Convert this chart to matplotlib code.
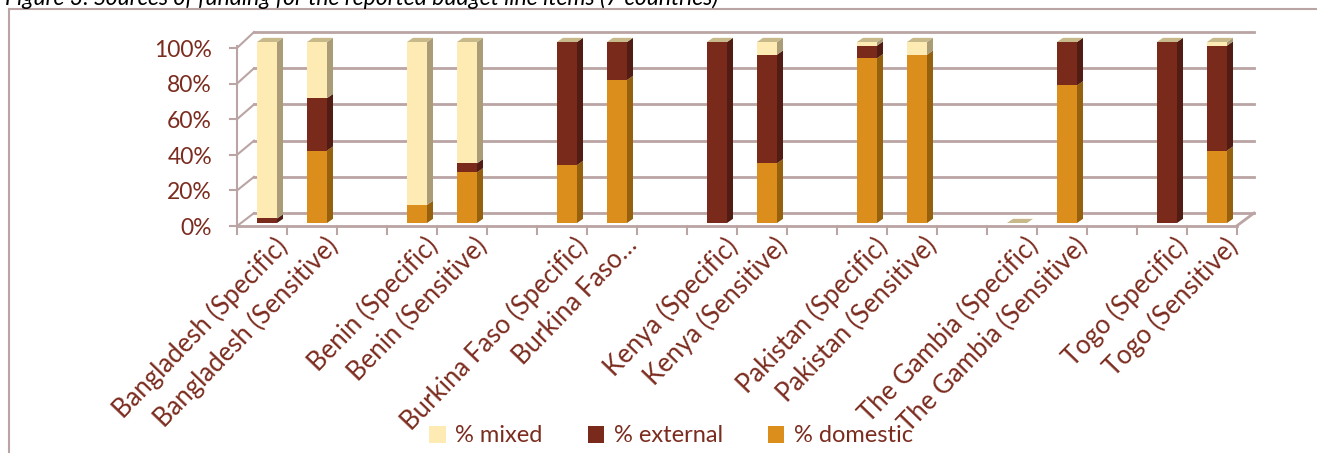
import numpy as np
import matplotlib.pyplot as plt
from matplotlib.patches import Polygon, Rectangle
from matplotlib.lines import Line2D

# categories (blank slots separate the countries)
categories = ["Bangladesh (Specific)", "Bangladesh (Sensitive)", "",
              "Benin (Specific)", "Benin (Sensitive)", "",
              "Burkina Faso (Specific)", "Burkina Faso\u2026", "",
              "Kenya (Specific)", "Kenya (Sensitive)", "",
              "Pakistan (Specific)", "Pakistan (Sensitive)", "",
              "The Gambia (Specific)", "The Gambia (Sensitive)", "",
              "Togo (Specific)", "Togo (Sensitive)"]

# None = empty slot
domestic = [0, 40, None, 10, 28, None, 32, 79, None, 0, 33, None, 91, 93, None, 0, 76, None, 0, 40]
external = [2.5, 29, None, 0, 5, None, 68, 21, None, 100, 60, None, 7, 0, None, 0, 24, None, 100, 58]
mixed = [97.5, 31, None, 90, 67, None, 0, 0, None, 0, 7, None, 2, 7, None, 0, 0, None, 0, 2]

series_names = ["% mixed", "% external", "% domestic"]
front_cols = {"% domestic": "#DC8E1C", "% external": "#7A2A1B", "% mixed": "#FEEBB4"}
side_cols = {"% domestic": "#96610F", "% external": "#511C13", "% mixed": "#A99C76"}
top_col = "#C8B98A"
txt_col = "#7B2C1F"
grid_col = "#BBA4A4"

FONT = "Lato"

W, H = 1317, 453
fig = plt.figure(figsize=(W / 100, H / 100), dpi=100)

# front plane: slot i spans x in [i, i+1]; 0% at 223px, 100% at 42px
ax = fig.add_axes([237 / W, (H - 223) / H, 1000 / W, 181 / H])
ax.set_xlim(0, 20)
ax.set_ylim(0, 100)
ax.axis("off")

# 3D offsets in data units
wall_dx, wall_dy = 0.34, 5.5
bar_dx, bar_dy = 0.12, 2.3
floor_y = -1.5


def axis_pos(v):
    # the value axis sits a little in front of the bars
    return -1.7 + 0.984 * v


# back wall gridlines + left wall diagonals
for v in range(0, 101, 20):
    yf = axis_pos(v)
    ax.add_line(Line2D([wall_dx, 20 + wall_dx], [v + wall_dy, v + wall_dy],
                       color=grid_col, lw=2, clip_on=False, zorder=1))
    ax.add_line(Line2D([0, wall_dx], [yf, v + wall_dy],
                       color=grid_col, lw=1.5, clip_on=False, zorder=1))
    ax.add_line(Line2D([-0.14, 0], [yf, yf],
                       color=grid_col, lw=1.5, clip_on=False, zorder=1))
    ax.text(-0.5, yf - 1.2, f"{v}%", ha="right", va="center", color=txt_col,
            fontsize=16.5, family=FONT, clip_on=False)

# y axis, floor front edge and right diagonal
ax.add_line(Line2D([0, 0], [axis_pos(0), axis_pos(100) + 1], color=grid_col, lw=1.5, clip_on=False, zorder=1))
ax.add_line(Line2D([0, 20], [floor_y, floor_y], color=grid_col, lw=2, clip_on=False, zorder=1))
ax.add_line(Line2D([20, 20 + wall_dx], [floor_y, wall_dy], color=grid_col, lw=2, clip_on=False, zorder=1))
for i in range(21):
    ax.add_line(Line2D([i, i], [floor_y, floor_y - 4.5], color=grid_col, lw=1.5, clip_on=False, zorder=1))

# bars
for i, cat in enumerate(categories):
    if domestic[i] is None:
        continue
    x0, x1 = i + 0.4, i + 0.8
    bottom = 0
    for name, vals in [("% domestic", domestic), ("% external", external), ("% mixed", mixed)]:
        h = vals[i]
        if h > 0:
            ax.bar(x0 + 0.2, h, width=0.4, bottom=bottom, color=front_cols[name],
                   linewidth=0, zorder=3, clip_on=False)
            ax.add_patch(Polygon([(x1, bottom), (x1 + bar_dx, bottom + bar_dy),
                                  (x1 + bar_dx, bottom + h + bar_dy), (x1, bottom + h)],
                                 closed=True, facecolor=side_cols[name], lw=0,
                                 zorder=3, clip_on=False))
        bottom += h
    ax.add_patch(Polygon([(x0, bottom), (x0 + bar_dx, bottom + bar_dy),
                          (x1 + bar_dx, bottom + bar_dy), (x1, bottom)],
                         closed=True, facecolor=top_col, lw=0, zorder=4, clip_on=False))

# category labels
for i, cat in enumerate(categories):
    if cat:
        ax.text(i + 0.74, -5.5, cat, rotation=46, rotation_mode="anchor",
                ha="right", va="top", color=txt_col, fontsize=18.5,
                family=FONT, clip_on=False)

# legend
handles = [Rectangle((0, 0), 1, 1, facecolor=front_cols[n], lw=0) for n in series_names]
leg = fig.legend(handles, series_names, loc="center", bbox_to_anchor=(671 / W, 1 - 436 / H),
                 ncol=3, frameon=False, handlelength=0.7, handleheight=0.7,
                 handletextpad=0.4, columnspacing=1.9, prop={"family": FONT, "size": 17})
for t in leg.get_texts():
    t.set_color(txt_col)

# cut-off caption and chart frame
fig.text(5 / W, 1 - 5 / H, "Figure 3: Sources of funding for the reported budget line items (7 countries)",
         ha="left", va="baseline", fontsize=16.5, style="italic", family=FONT, color="black")
fig.add_artist(Line2D([9 / W, 9 / W], [0, 1 - 9 / H], color=grid_col, lw=1.5))
fig.add_artist(Line2D([9 / W, 1], [1 - 9 / H, 1 - 9 / H], color=grid_col, lw=1.5))

fig.savefig("out.png", dpi=100)
